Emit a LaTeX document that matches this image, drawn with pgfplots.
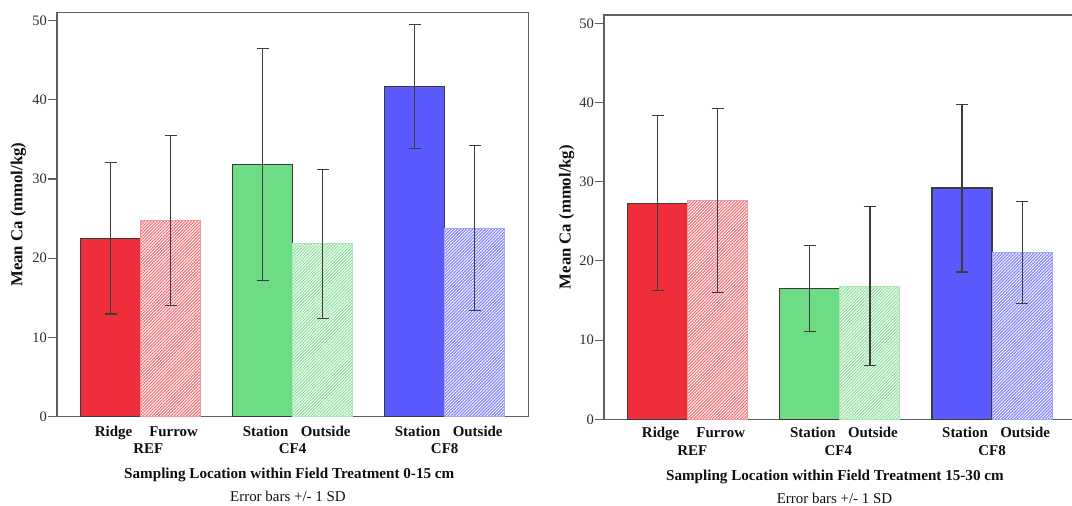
\documentclass[border=0pt]{standalone}
\usepackage{fontspec}
\setmainfont{Liberation Serif}
\usepackage{pgfplots}
\pgfplotsset{compat=1.18}
\usetikzlibrary{patterns.meta}

\definecolor{cred}{RGB}{238,46,58}
\definecolor{cgreen}{RGB}{110,220,132}
\definecolor{cblue}{RGB}{90,90,255}
\definecolor{hred}{RGB}{242,120,128}
\definecolor{hredb}{RGB}{248,150,156}
\definecolor{hgreen}{RGB}{150,225,164}
\definecolor{hgreenb}{RGB}{170,232,180}
\definecolor{hblue}{RGB}{135,135,255}
\definecolor{hblueb}{RGB}{165,165,255}
\definecolor{framegray}{RGB}{95,95,95}
\definecolor{errgray}{RGB}{60,60,60}
\definecolor{bardark}{RGB}{60,60,60}
\definecolor{tickgray}{RGB}{45,45,45}
\definecolor{txt}{RGB}{15,15,15}

\tikzset{
  grp/.style={font=\bfseries\fontsize{15}{17}\selectfont, text=txt, anchor=base},
  ttl/.style={font=\bfseries\fontsize{15.2}{17}\selectfont, text=txt, anchor=base},
  ebt/.style={font=\fontsize{15}{17}\selectfont, text=txt, anchor=base},
}

\pgfplotsset{
  panel/.style={
    scale only axis, height=#1,
    xmin=-0.55, xmax=2.55, ymin=0,
    axis line style={color=framegray, line width=1.3bp},
    ytick={0,10,...,50}, tick align=outside, major tick length=9bp,
    ytick pos=left,
    xtick={-0.1975,0.1975,0.8025,1.1975,1.8025,2.1975},
    xticklabels={Ridge,Furrow,Station,Outside,Station,Outside},
    x tick style={draw=none},
    y tick style={color=framegray, line width=1.1bp},
    yticklabel style={font=\fontsize{14.5}{16}\selectfont, text=tickgray, inner sep=1bp},
    xticklabel style={font=\bfseries\fontsize{15}{17}\selectfont, text=txt, anchor=base, xshift=3bp},
    /pgf/number format/assume math mode=true,
    ylabel={Mean Ca (mmol/kg)},
    ylabel style={font=\bfseries\fontsize{16.8}{18}\selectfont, text=txt, anchor=center},
    clip=false,
  },
  errs/.style={
    /pgfplots/error bars/y dir=both, /pgfplots/error bars/y explicit,
    /pgfplots/error bars/error bar style={color=errgray, line width=1.1bp},
    /pgfplots/error bars/error mark options={rotate=90, mark size=6bp, line width=1.1bp, color=errgray},
  },
  solidbar/.style={ybar, bar width=60bp, bar shift=0pt, fill=#1, draw=bardark, line width=1.1bp, errs},
  hatchbar/.style 2 args={ybar, bar width=60bp, bar shift=0pt, draw=#2, line width=1bp,
    pattern={Lines[angle=45,distance=2.2bp,line width=1.2bp]}, pattern color=#1, errs},
}

\begin{document}
\begin{tikzpicture}
\path[use as bounding box] (0,0) rectangle (1072bp,506bp);
\clip (0,0) rectangle (1072bp,506bp);

% ---------- left panel: 0-15 cm ----------
\begin{axis}[panel=403.8bp, width=471.3bp, ymax=51.01,
  at={(57bp,89.5bp)}, anchor=south west,
  xticklabel style={yshift=-10.5bp},
  ylabel style={at={(axis description cs:-0.0821,0.5)}}]
\addplot[solidbar=cred] coordinates {(-0.1975,22.5) +- (0,9.55)};
\addplot[hatchbar={hred}{hredb}] coordinates {(0.1975,24.8) +- (0,10.75)};
\addplot[solidbar=cgreen] coordinates {(0.8025,31.8) +- (0,14.65)};
\addplot[hatchbar={hgreen}{hgreenb}] coordinates {(1.1975,21.8) +- (0,9.45)};
\addplot[solidbar=cblue] coordinates {(1.8025,41.7) +- (0,7.85)};
\addplot[hatchbar={hblue}{hblueb}] coordinates {(2.1975,23.8) +- (0,10.45)};
\node[grp, yshift=-36.8bp] at (axis cs:0.05,0) {REF};
\node[grp, yshift=-36.8bp] at (axis cs:1,0) {CF4};
\node[grp, yshift=-36.8bp] at (axis cs:2,0) {CF8};
\node[ttl, yshift=-61.5bp] at (axis description cs:0.4928,0) {Sampling Location within Field Treatment 0-15 cm};
\node[ebt, yshift=-85.2bp] at (axis description cs:0.490,0) {Error bars +/- 1 SD};
\end{axis}

% ---------- right panel: 15-30 cm ----------
\begin{axis}[panel=404.3bp, width=471.8bp, ymax=51.05,
  at={(604bp,86.7bp)}, anchor=south west,
  xticklabel style={yshift=-9.5bp},
  ylabel style={at={(axis description cs:-0.0791,0.5)}}]
\addplot[solidbar=cred] coordinates {(-0.1975,27.3) +- (0,11.05)};
\addplot[hatchbar={hred}{hredb}] coordinates {(0.1975,27.6) +- (0,11.6)};
\addplot[solidbar=cgreen] coordinates {(0.8025,16.5) +- (0,5.4)};
\addplot[hatchbar={hgreen}{hgreenb}] coordinates {(1.1975,16.8) +- (0,10.05)};
\addplot[solidbar=cblue] coordinates {(1.8025,29.2) +- (0,10.6)};
\addplot[hatchbar={hblue}{hblueb}] coordinates {(2.1975,21.1) +- (0,6.45)};
\node[grp, yshift=-35.7bp] at (axis cs:0.03,0) {REF};
\node[grp, yshift=-35.7bp] at (axis cs:0.99,0) {CF4};
\node[grp, yshift=-35.7bp] at (axis cs:2,0) {CF8};
\node[ttl, yshift=-60.7bp] at (axis description cs:0.4894,0) {Sampling Location within Field Treatment 15-30 cm};
\node[ebt, yshift=-83.7bp] at (axis description cs:0.4886,0) {Error bars +/- 1 SD};
\end{axis}
\end{tikzpicture}
\end{document}
